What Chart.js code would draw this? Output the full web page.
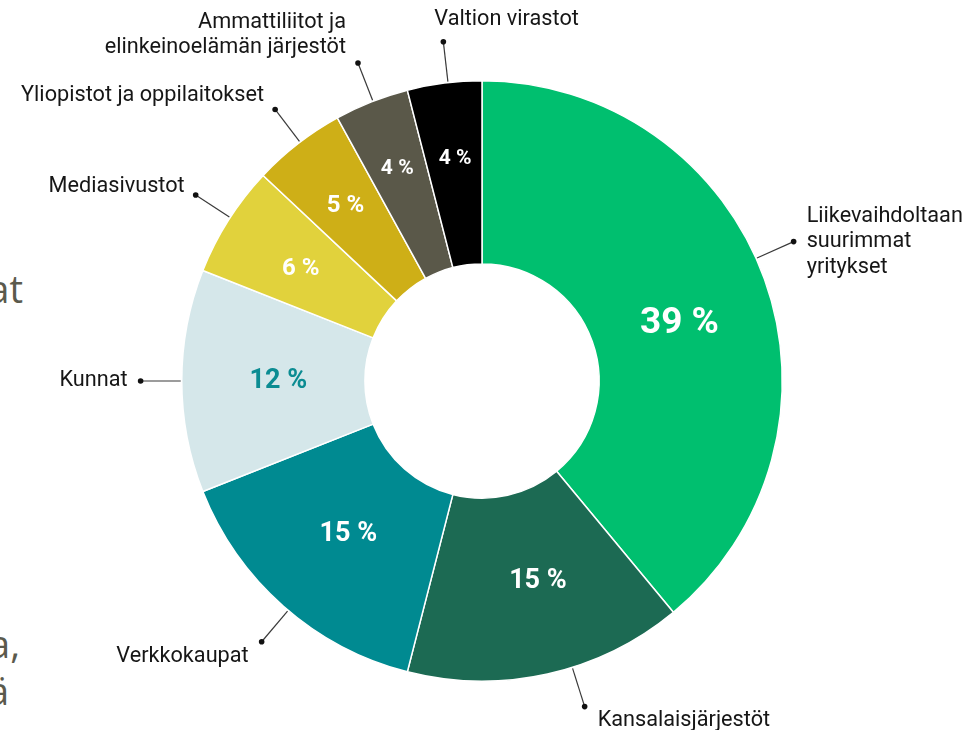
<!DOCTYPE html>
<html><head><meta charset="utf-8">
<script src="https://cdn.jsdelivr.net/npm/chart.js@4.4.1/dist/chart.umd.min.js"></script>
<style>
html,body{margin:0;padding:0;background:#fff;overflow:hidden;}
#wrap{position:relative;width:972px;height:730px;overflow:hidden;}
#c{position:absolute;left:0;top:0;}
.bg{position:absolute;font-family:'Open Sans',sans-serif;color:#5b5a4d;font-size:38px;line-height:38px;white-space:nowrap;text-align:right;}
</style></head><body>
<div id="wrap">
<div class="bg" style="right:949px;top:269px;">at</div>
<div class="bg" style="right:952px;top:624px;">a,</div>
<div class="bg" style="right:963px;top:671px;">ä</div>
<canvas id="c" width="972" height="730"></canvas>
</div>
<script>
const categories = [
  ['Liikevaihdoltaan', 'suurimmat', 'yritykset'],
  'Kansalaisjärjestöt',
  'Verkkokaupat',
  'Kunnat',
  'Mediasivustot',
  'Yliopistot ja oppilaitokset',
  ['Ammattiliitot ja', 'elinkeinoelämän järjestöt'],
  'Valtion virastot'
];
const shares = [39, 15, 15, 12, 6, 5, 4, 4];
const sliceColors = ['#00bf6f', '#1c6a53', '#008a91', '#d5e7ea', '#e1d23c', '#ceaf17', '#5a5849', '#000000'];
const valueColors = ['#ffffff', '#ffffff', '#ffffff', '#0b8c92', '#ffffff', '#ffffff', '#ffffff', '#ffffff'];

// label layout (styling only)
const valueLayout = [
  {shift: 3.5, r: 0.685, size: 37},
  {shift: -3, r: 0.693, size: 27},
  {shift: -0.4, r: 0.678, size: 27},
  {shift: 0, r: 0.678, size: 27},
  {shift: -0.6, r: 0.71, size: 24},
  {shift: -0.1, r: 0.74, size: 24},
  {shift: -0.2, r: 0.76, size: 21},
  {shift: 0.3, r: 0.746, size: 21}
];
const calloutLayout = [
  {shift: -4.3, align: 'left', dx: 13, dy: 0},
  {shift: -4.9, align: 'left', dx: 13, dy: 14},
  {shift: -1.2, align: 'right', dx: -13, dy: 15},
  {shift: 0, align: 'right', dx: -13, dy: 0},
  {shift: 0.6, align: 'right', dx: -11, dy: -8},
  {shift: 0.5, align: 'right', dx: -11, dy: -14},
  {shift: 0.3, align: 'right', dx: -12, dy: -28},
  {shift: 0.7, align: 'left', dx: -9, dy: -22}
];

const calloutPlugin = {
  id: 'callouts',
  afterDatasetsDraw(chart) {
    const ctx = chart.ctx;
    const meta = chart.getDatasetMeta(0);
    const labels = chart.data.labels;
    meta.data.forEach((arc, i) => {
      const p = arc.getProps(['x', 'y', 'startAngle', 'endAngle', 'outerRadius', 'innerRadius'], true);
      const mid = (p.startAngle + p.endAngle) / 2;
      const vl = valueLayout[i];
      const a1 = mid + vl.shift * Math.PI / 180;
      const r1 = p.outerRadius * vl.r;
      ctx.save();
      ctx.font = `700 ${vl.size}px Roboto`;
      ctx.fillStyle = valueColors[i];
      ctx.textAlign = 'center';
      ctx.textBaseline = 'middle';
      ctx.fillText(chart.data.datasets[0].data[i] + ' %', p.x + r1 * Math.cos(a1), p.y + r1 * Math.sin(a1));

      const cl = calloutLayout[i];
      const a2 = mid + cl.shift * Math.PI / 180;
      const x0 = p.x + (p.outerRadius + 1) * Math.cos(a2);
      const y0 = p.y + (p.outerRadius + 1) * Math.sin(a2);
      const x1 = p.x + p.outerRadius * 1.137 * Math.cos(a2);
      const y1 = p.y + p.outerRadius * 1.137 * Math.sin(a2);
      ctx.strokeStyle = '#3a3a3a';
      ctx.lineWidth = 1.2;
      ctx.beginPath();
      ctx.moveTo(x0, y0);
      ctx.lineTo(x1, y1);
      ctx.stroke();
      ctx.fillStyle = '#111111';
      ctx.beginPath();
      ctx.arc(x1, y1, 2.8, 0, Math.PI * 2);
      ctx.fill();

      const lines = Array.isArray(labels[i]) ? labels[i] : [labels[i]];
      const lh = 25.5;
      ctx.font = '400 21.7px Roboto';
      ctx.fillStyle = '#161616';
      ctx.textAlign = cl.align;
      ctx.textBaseline = 'middle';
      const cy = y1 + cl.dy - (lines.length - 1) * lh / 2;
      lines.forEach((t, k) => ctx.fillText(t, x1 + cl.dx, cy + k * lh));
      ctx.restore();
    });
  }
};

new Chart(document.getElementById('c'), {
  type: 'doughnut',
  data: {
    labels: categories,
    datasets: [{
      data: shares,
      backgroundColor: sliceColors,
      borderColor: '#ffffff',
      borderWidth: 1.5,
      hoverOffset: 0
    }]
  },
  options: {
    responsive: false,
    animation: false,
    cutout: '39%',
    layout: {padding: {top: 80, bottom: 48, left: 100, right: 108}},
    plugins: {legend: {display: false}, tooltip: {enabled: false}}
  },
  plugins: [calloutPlugin]
});
</script>
</body></html>
